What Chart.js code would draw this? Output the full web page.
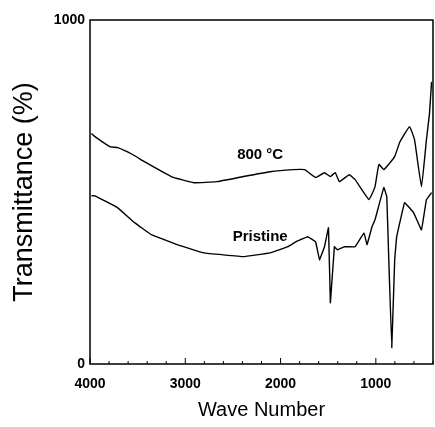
<!DOCTYPE html>
<html>
<head>
<meta charset="utf-8">
<script src="https://cdn.jsdelivr.net/npm/chart.js@4"></script>
<style>
  html, body { margin: 0; padding: 0; background: #fff; }
  #box { width: 435px; height: 427px; }
</style>
</head>
<body>
<div id="box"><canvas id="ftir"></canvas></div>
<script>
// wave numbers (cm-1) and transmittance
const wave800 = [3985, 3948, 3792, 3709, 3553, 3429, 3148, 2910, 2671, 2390, 2110, 1871, 1747, 1632, 1539, 1477, 1425, 1383, 1279, 1217, 1072, 1009, 968, 916, 802, 750, 646, 594, 521, 469, 438, 415];
const trans800 = [670, 661, 632, 629, 609, 588, 545, 527, 530, 545, 559, 565, 565, 542, 556, 545, 556, 530, 550, 536, 478, 515, 580, 565, 603, 644, 690, 652, 515, 652, 725, 820];

const wavePristine = [3985, 3948, 3709, 3533, 3356, 3086, 2806, 2390, 2110, 1923, 1840, 1715, 1632, 1591, 1539, 1497, 1477, 1435, 1404, 1331, 1217, 1124, 1092, 1040, 1009, 916, 885, 864, 833, 802, 781, 698, 604, 521, 469, 415];
const transPristine = [489, 489, 454, 411, 376, 347, 323, 312, 323, 341, 355, 370, 355, 303, 341, 396, 178, 341, 332, 341, 341, 381, 347, 399, 419, 513, 486, 303, 47, 303, 370, 469, 440, 390, 478, 498];

const xTickLabels = [4000, 3000, 2000, 1000];
const yTickLabels = [0, 1000];
const curveNames = ['800 °C', 'Pristine'];
const namePos = [[2214, 609], [2214, 370]];

const toPts = (xs, ys) => xs.map((x, i) => ({ x: x, y: ys[i] }));

const frame = {
    id: 'frame',
    afterDatasetsDraw(chart) {
        const { ctx, chartArea: a, scales } = chart;
        ctx.save();
        ctx.strokeStyle = '#000';
        ctx.lineWidth = 1.5;
        ctx.strokeRect(a.left, a.top, a.right - a.left, a.bottom - a.top);
        // inward ticks along the bottom
        ctx.lineWidth = 1;
        for (let w = 400; w <= 4000; w += 200) {
            const px = scales.x.getPixelForValue(w);
            const len = w % 1000 === 0 ? 6 : 3;
            ctx.beginPath();
            ctx.moveTo(px, a.bottom);
            ctx.lineTo(px, a.bottom - len);
            ctx.stroke();
        }
        ctx.fillStyle = '#000';
        ctx.font = 'bold 15px "Liberation Sans", Arial, sans-serif';
        ctx.textAlign = 'center';
        ctx.textBaseline = 'middle';
        curveNames.forEach((n, i) => {
            ctx.fillText(n, scales.x.getPixelForValue(namePos[i][0]), scales.y.getPixelForValue(namePos[i][1]));
        });
        ctx.restore();
    }
};

const tickFont = { family: '"Liberation Sans", Arial, sans-serif', size: 14, weight: 'bold' };

new Chart(document.getElementById('ftir'), {
    type: 'line',
    data: {
        datasets: [
            { label: curveNames[0], data: toPts(wave800, trans800), borderColor: '#000', borderWidth: 1.4, pointRadius: 0, tension: 0.1 },
            { label: curveNames[1], data: toPts(wavePristine, transPristine), borderColor: '#000', borderWidth: 1.4, pointRadius: 0, tension: 0.05 }
        ]
    },
    options: {
        responsive: true,
        maintainAspectRatio: false,
        animation: false,
        layout: { padding: { top: 20, right: 2, left: 8, bottom: 5 } },
        plugins: { legend: { display: false }, tooltip: { enabled: false } },
        scales: {
            x: {
                type: 'linear',
                reverse: true,
                min: 400,
                max: 4000,
                afterBuildTicks: s => { s.ticks = xTickLabels.map(v => ({ value: v })); },
                afterFit: s => { s.height = 58; },
                grid: { display: false, drawTicks: false },
                border: { display: false },
                ticks: { color: '#000', font: tickFont, padding: 12, maxRotation: 0, autoSkip: false, callback: v => String(v) },
                title: { display: true, text: 'Wave Number', color: '#000', font: { family: '"Liberation Sans", Arial, sans-serif', size: 20 }, padding: { top: 8, bottom: 0 } }
            },
            y: {
                min: 0,
                max: 1000,
                afterBuildTicks: s => { s.ticks = yTickLabels.map(v => ({ value: v })); },
                afterFit: s => { s.width = 82; },
                grid: { display: false, drawTicks: false },
                border: { display: false },
                ticks: { color: '#000', font: tickFont, padding: 5, callback: v => String(v) },
                title: { display: true, text: 'Transmittance (%)', color: '#000', font: { family: '"Liberation Sans", Arial, sans-serif', size: 27 }, padding: { top: 0, bottom: 0 } }
            }
        }
    },
    plugins: [frame]
});
</script>
</body>
</html>
